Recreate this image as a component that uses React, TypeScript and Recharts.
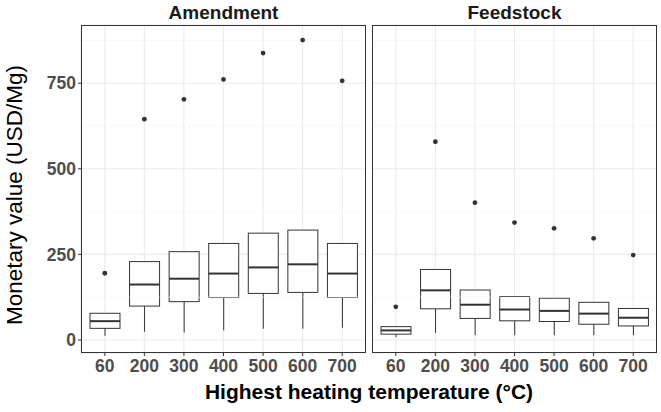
import { Bar, CartesianGrid, ComposedChart, ReferenceLine, Scatter, XAxis, YAxis } from "recharts";

const temps = ["60", "200", "300", "400", "500", "600", "700"];
const yTicks = [0, 250, 500, 750];
const minorTicks = [125, 375, 625, 875];

// Amendment: [lower whisker, Q1, median, Q3, upper whisker, outlier]
const amendLow = [12, 24, 22, 28, 33, 33, 36];
const amendQ1 = [34, 99, 112, 124, 136, 139, 124];
const amendMed = [55, 162, 179, 194, 212, 221, 194];
const amendQ3 = [78, 229, 258, 282, 312, 321, 282];
const amendHigh = [78, 229, 258, 282, 312, 321, 282];
const amendOut = [195, 645, 703, 761, 838, 876, 757];

// Feedstock
const feedLow = [8, 21, 14, 14, 14, 14, 14];
const feedQ1 = [17, 91, 63, 56, 54, 46, 41];
const feedMed = [28, 145, 103, 89, 85, 77, 65];
const feedQ3 = [39, 206, 146, 127, 122, 110, 92];
const feedHigh = [39, 206, 146, 127, 122, 110, 92];
const feedOut = [97, 579, 401, 343, 326, 297, 248];

const build = (lo: number[], q1: number[], med: number[], q3: number[], hi: number[], out: number[]) =>
  temps.map((t, i) => ({ temp: t, box: [q1[i], q3[i]], lo: lo[i], q1: q1[i], med: med[i], q3: q3[i], hi: hi[i], out: out[i] }));

const amendData = build(amendLow, amendQ1, amendMed, amendQ3, amendHigh, amendOut);
const feedData = build(feedLow, feedQ1, feedMed, feedQ3, feedHigh, feedOut);

const INK = "#333333";

const BoxShape = (props: any) => {
  const { x, y, width, height, payload } = props;
  const p = payload;
  const ppu = height / (p.q3 - p.q1);
  const toY = (v: number) => y + (p.q3 - v) * ppu;
  const cx = x + width / 2;
  return (
    <g>
      <line x1={cx} x2={cx} y1={toY(p.q1)} y2={toY(p.lo)} stroke={INK} strokeWidth={1} />
      <line x1={cx} x2={cx} y1={toY(p.q3)} y2={toY(p.hi)} stroke={INK} strokeWidth={1} />
      <rect x={x} y={y} width={width} height={height} fill="#fff" stroke={INK} strokeWidth={1} />
      <line x1={x} x2={x + width} y1={toY(p.med)} y2={toY(p.med)} stroke={INK} strokeWidth={2} />
    </g>
  );
};

const Dot = (props: any) => <circle cx={props.cx} cy={props.cy} r={2.4} fill={INK} />;

const tickStyle = { fill: "#4D4D4D", fontSize: 17.5, fontWeight: 700, fontFamily: "Liberation Sans, Arial, sans-serif" };

function Panel({ data, showY }: { data: any[]; showY: boolean }) {
  return (
    <ComposedChart
      width={showY ? 366 : 285}
      height={383}
      data={data}
      margin={{ top: 25, right: 0, bottom: 0, left: 0 }}
    >
      <CartesianGrid stroke="#EBEBEB" strokeWidth={1.1} />
      {minorTicks.map((v) => (
        <ReferenceLine key={v} y={v} stroke="#F3F3F3" strokeWidth={0.6} />
      ))}
      <XAxis
        dataKey="temp"
        tick={tickStyle}
        tickLine={{ stroke: INK }}
        tickSize={3}
        tickMargin={4}
        axisLine={false}
        height={30}
        padding={{ left: 4, right: 4 }}
        interval={0}
      />
      <YAxis
        type="number"
        domain={[-38, 920]}
        ticks={yTicks}
        allowDataOverflow
        hide={!showY}
        width={81}
        tick={tickStyle}
        tickLine={{ stroke: INK }}
        tickSize={3}
        tickMargin={2}
        axisLine={false}
      />
      <Bar dataKey="box" barSize={30} shape={BoxShape} isAnimationActive={false} />
      <Scatter dataKey="out" shape={Dot} isAnimationActive={false} />
    </ComposedChart>
  );
}

export default function App() {
  const font = "Liberation Sans, Arial, sans-serif";
  return (
    <div style={{ position: "relative", width: 661, height: 412, background: "#fff", fontFamily: font }}>
      <style>{"body{margin:0}"}</style>
      <div style={{ position: "absolute", left: 0, top: 0 }}>
        <Panel data={amendData} showY />
      </div>
      <div style={{ position: "absolute", left: 372, top: 0 }}>
        <Panel data={feedData} showY={false} />
      </div>
      <div style={{ position: "absolute", left: 81, top: 25, width: 285, height: 328, border: `1px solid ${INK}`, boxSizing: "border-box", pointerEvents: "none" }} />
      <div style={{ position: "absolute", left: 372, top: 25, width: 285, height: 328, border: `1px solid ${INK}`, boxSizing: "border-box", pointerEvents: "none" }} />
      <svg width={661} height={412} style={{ position: "absolute", left: 0, top: 0, pointerEvents: "none" }}>
        <text x={223.5} y={19} textAnchor="middle" fontSize={19} fontWeight={700} fill="#1A1A1A" fontFamily={font}>Amendment</text>
        <text x={514.5} y={19} textAnchor="middle" fontSize={19} fontWeight={700} fill="#1A1A1A" fontFamily={font}>Feedstock</text>
        <text x={369} y={399} textAnchor="middle" fontSize={21} fontWeight={700} fill="#000" fontFamily={font}>Highest heating temperature (°C)</text>
        <text x={22} y={195} textAnchor="middle" fontSize={22.5} fill="#000" fontFamily={font} transform="rotate(-90 22 195)">Monetary value (USD/Mg)</text>
      </svg>
    </div>
  );
}
